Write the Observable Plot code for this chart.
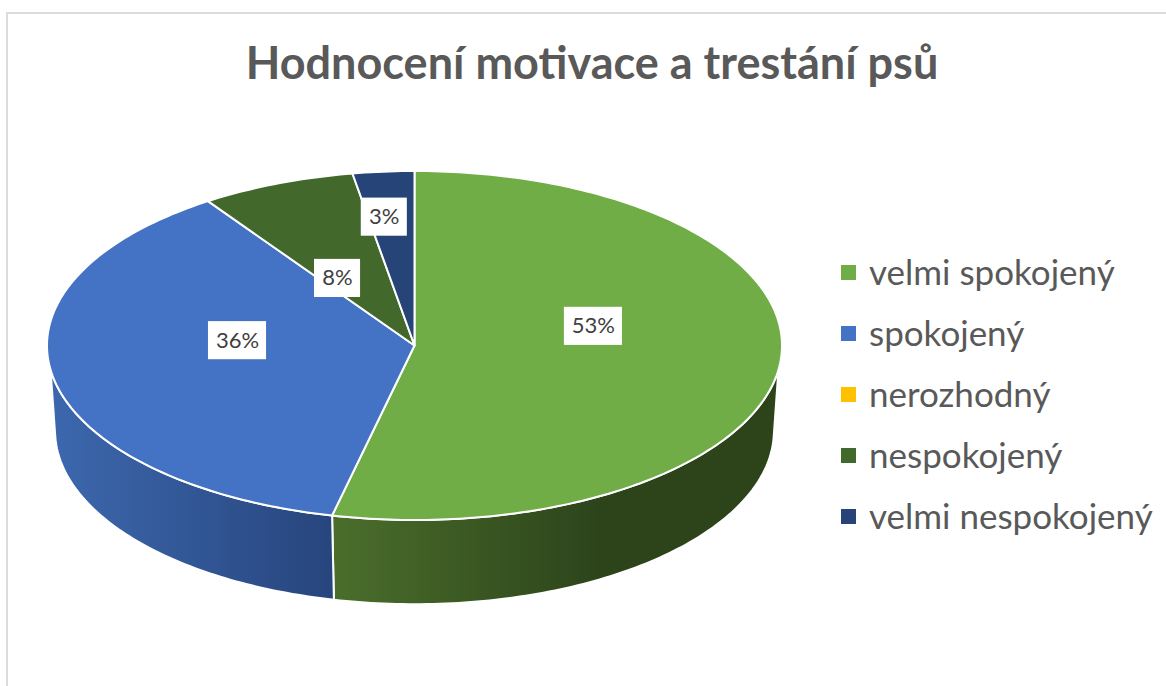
<!DOCTYPE html>
<html lang="cs">
<head>
<meta charset="utf-8">
<script src="https://cdn.jsdelivr.net/npm/d3@7"></script>
<script src="https://cdn.jsdelivr.net/npm/@observablehq/plot@0.6"></script>
<style>
  html, body { margin: 0; padding: 0; background: #fff; }
  #frame { position: relative; width: 1166px; height: 686px; overflow: hidden; font-family: Lato, sans-serif; }
  #frame::before { content: ""; position: absolute; left: 6px; top: 12px; right: 0; bottom: 0; border-left: 2px solid #dcdcdc; border-top: 2px solid #dcdcdc; }
  #title { position: absolute; left: 8px; width: 1168px; top: 35px; text-align: center; font: 700 45px Lato, sans-serif; color: #595959; white-space: nowrap; }
  #legend { position: absolute; left: 841px; top: 242px; }
  .row { display: flex; align-items: center; height: 61px; font-size: 35px; color: #595959; white-space: nowrap; }
  .row span { position: relative; top: -2px; }
  .swatch { width: 15px; height: 15px; margin-right: 13px; }
  svg { position: absolute; left: 0; top: 0; }
</style>
</head>
<body>
<div id="frame">
  <div id="chart"></div>
  <div id="title"></div>
  <div id="legend"></div>
</div>
<script>
// Data
const titleText = "Hodnocení motivace a trestání psů";
const categories = ["velmi spokojený", "spokojený", "nerozhodný", "nespokojený", "velmi nespokojený"];
const shares = [53.6, 36.9, 0, 6.8, 2.7];
const percentLabels = ["53%", "36%", "", "8%", "3%"];

// Styles
const colors = ["#70AD47", "#4472C4", "#FFC000", "#43682B", "#264478"];
const wallStops = [
  [[0, "#4a6e2b"], [0.6, "#2d441b"], [1, "#2d441b"]],
  [[0, "#3d68ae"], [1, "#27457d"]]
];

// Projection of the tilted disc, in units of the top face's radii
const depth = 0.4885, lowerX = 0.978, lowerY = 0.994;
const wallFront = [98, 262], lowerFront = [92, 268];
// Label placement: distance along the slice's middle angle, plus a vertical lift
const labelRadius = [0.49, 0.49, 0, 0.56, 0.97];
const labelLift = [0.165, 0.118, 0, -0.135, -0.231];

const rad = d => d * Math.PI / 180;
const rimTop = d => ({u: Math.sin(rad(d)), v: Math.cos(rad(d))});
const rimLow = d => ({u: lowerX * Math.sin(rad(d)), v: lowerY * Math.cos(rad(d)) - depth});
const arc = (a, b, f) => {
  const n = Math.max(2, Math.ceil(Math.abs(b - a)));
  return d3.range(n + 1).map(i => f(a + (b - a) * i / n));
};

const total = d3.sum(shares);
let run = 0;
const slices = categories.map((name, i) => {
  const start = run / total * 360;
  run += shares[i];
  return {name, i, share: shares[i], start, end: run / total * 360, color: colors[i]};
}).filter(s => s.share > 0);

const faces = slices.map(s => ({s, pts: [{u: 0, v: 0}, ...arc(s.start, s.end, rimTop)]}));
const walls = slices.flatMap(s => {
  const a = Math.max(s.start, wallFront[0]), b = Math.min(s.end, wallFront[1]);
  if (a >= b) return [];
  const la = s.start < wallFront[0] ? lowerFront[0] : a;
  const lb = s.end > wallFront[1] ? lowerFront[1] : b;
  return [{s, pts: [...arc(a, b, rimTop), ...arc(lb, la, rimLow)]}];
});

const labels = slices.map(s => {
  const mid = (s.start + s.end) / 2;
  const r = labelRadius[s.i];
  const text = percentLabels[s.i];
  const halfW = (text.length === 3 ? 29 : 23) / 367, halfH = 19 / 174;
  const u = r * Math.sin(rad(mid)), v = r * Math.cos(rad(mid)) + labelLift[s.i];
  return {text, u, v, u1: u - halfW, u2: u + halfW, v1: v - halfH, v2: v + halfH};
});

const defs = () => {
  const d = d3.create("svg:defs");
  wallStops.forEach((stops, i) => {
    const g = d.append("svg:linearGradient").attr("id", `wall${i}`);
    stops.forEach(([o, c]) => g.append("svg:stop").attr("offset", o).attr("stop-color", c));
  });
  return d.node();
};

const pie = Plot.plot({
  width: 1166,
  height: 686,
  margin: 0,
  style: {background: "transparent"},
  x: {domain: [-1, 1], range: [46.5, 781.5], axis: null},
  y: {domain: [-1, 1], range: [519.5, 170.5], axis: null},
  marks: [
    defs,
    ...walls.map(w => Plot.line(w.pts, {x: "u", y: "v", curve: "linear-closed", fill: `url(#wall${w.s.i})`, stroke: "#fff", strokeWidth: 2, strokeLinejoin: "round"})),
    ...faces.map(f => Plot.line(f.pts, {x: "u", y: "v", curve: "linear-closed", fill: f.s.color, stroke: "#fff", strokeWidth: 2, strokeLinejoin: "round"})),
    Plot.rect(labels, {x1: "u1", x2: "u2", y1: "v1", y2: "v2", fill: "#fff"}),
    Plot.text(labels, {x: "u", y: "v", text: "text", fontSize: 22, fill: "#404040", fontFamily: "Lato, sans-serif", lineAnchor: "middle"})
  ]
});
document.getElementById("chart").append(pie);
document.getElementById("title").textContent = titleText;
const legendBox = d3.select("#legend");
categories.forEach((c, i) => {
  const row = legendBox.append("div").attr("class", "row");
  row.append("div").attr("class", "swatch").style("background", colors[i]);
  row.append("span").text(c);
});
</script>
</body>
</html>
